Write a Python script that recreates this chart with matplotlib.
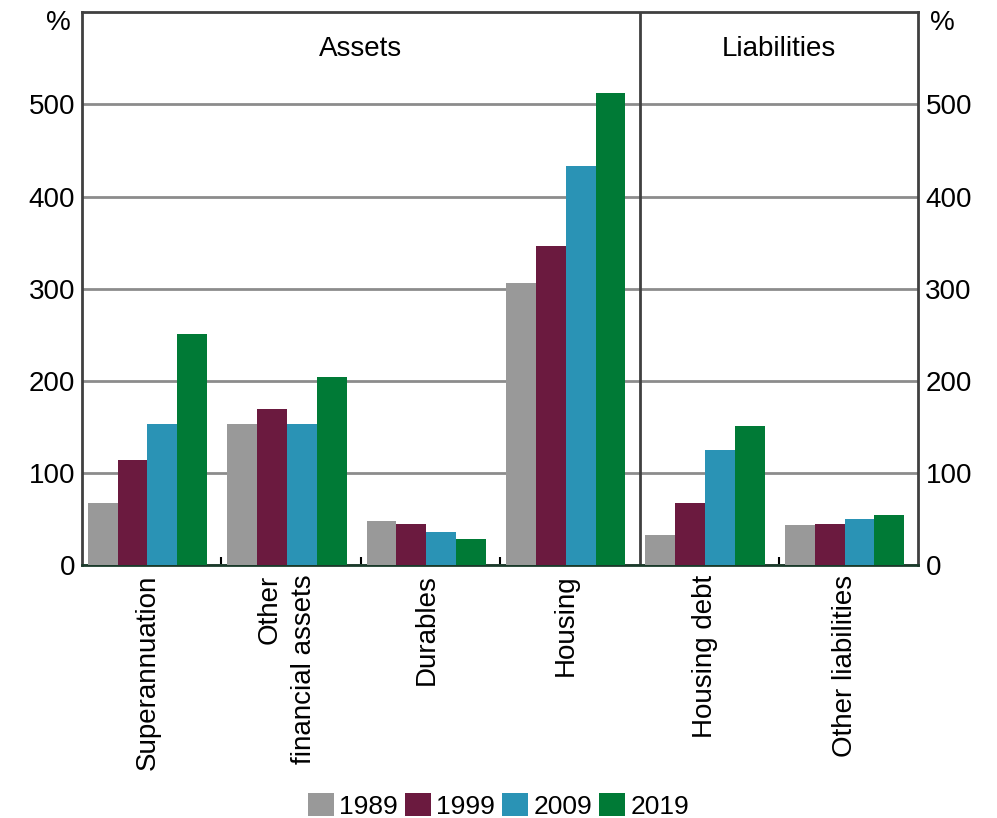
import numpy as np
import matplotlib
matplotlib.use("Agg")
import matplotlib.pyplot as plt

plt.rcParams['font.family'] = ['Liberation Sans', 'DejaVu Sans']

categories = ["Superannuation", "Other\nfinancial assets", "Durables", "Housing",
              "Housing debt", "Other liabilities"]
years = ["1989", "1999", "2009", "2019"]
v1989 = [68, 153, 48, 306, 33, 44]
v1999 = [114, 169, 45, 346, 68, 45]
v2009 = [153, 153, 36, 433, 125, 50]
v2019 = [251, 204, 29, 512, 151, 54]
series = [v1989, v1999, v2009, v2019]
colors = ["#999999", "#6b1a3f", "#2a93b5", "#007a36"]

fs = 20

fig = plt.figure(figsize=(9.97, 8.18), dpi=100)
ax = fig.add_axes([0.0822, 0.309, 0.839, 0.676])

x = np.arange(len(categories)) + 0.47
w = 0.214
for k, (vals, c, yr) in enumerate(zip(series, colors, years)):
    ax.bar(x + (k - 1.5) * w, vals, w, color=c, label=yr, zorder=3)

ax.set_xlim(0, 6)
ax.set_ylim(0, 600)
ax.set_yticks([0, 100, 200, 300, 400, 500])
ax.yaxis.grid(True, color="#8c8c8c", linewidth=2, zorder=1)
ax.tick_params(axis="y", length=0, labelsize=fs, pad=5,
               right=True, labelright=True)
ax.axvline(4, color="#404040", linewidth=2, zorder=2)

ax.set_xticks([1, 2, 3, 5])
ax.tick_params(axis="x", direction="in", length=6, width=1.5, labelbottom=False)
for xi, lab in zip(x, categories):
    ax.text(xi, -10, lab, rotation=90, ha="center", va="top", fontsize=fs,
            multialignment="right", linespacing=1.45)

for s in ax.spines.values():
    s.set_linewidth(2)
    s.set_color("#404040")
ax.spines["bottom"].set_color("#1a3a2a")

ax.text(2, 560, "Assets", ha="center", va="center", fontsize=fs)
ax.text(5, 560, "Liabilities", ha="center", va="center", fontsize=fs)
ax.text(-0.08, 588, "%", ha="right", va="center", fontsize=fs)
ax.text(6.08, 588, "%", ha="left", va="center", fontsize=fs)

fig.legend(loc="lower center", bbox_to_anchor=(0.5, -0.02), ncol=4, frameon=False,
           fontsize=19, handlelength=1.0, handleheight=1.0, handletextpad=0.2,
           columnspacing=0.25, borderaxespad=0.2)

fig.savefig("out.png", dpi=100)
